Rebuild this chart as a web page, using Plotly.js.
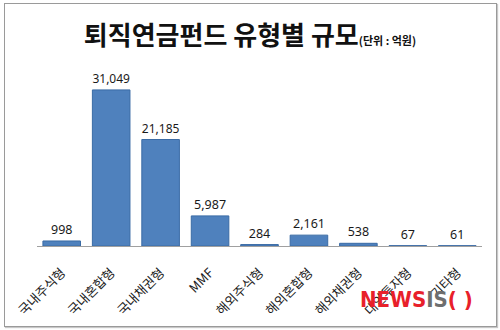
<!DOCTYPE html>
<html>
<head>
<meta charset="utf-8">
<script src="https://cdn.plot.ly/plotly-3.0.1.min.js"></script>
<style>
  html, body { margin: 0; padding: 0; background: #fff; }
  #wrap { position: relative; width: 500px; height: 330px; }
  #chart { width: 500px; height: 330px; }
  #frame { position: absolute; left: 4px; top: 3px; width: 491px; height: 322px;
           border: 1px solid #9a9a9a; box-shadow: 1px 1px 1px #c8c8c8; pointer-events: none; }
</style>
</head>
<body>
<div id="wrap">
  <div id="chart"></div>
  <div id="frame"></div>
</div>
<script>
const categories = ["국내주식형", "국내혼합형", "국내채권형", "MMF", "해외주식형", "해외혼합형", "해외채권형", "대안투자형", "기타형"];
const values = [998, 31049, 21185, 5987, 284, 2161, 538, 67, 61];
const valueLabels = ["998", "31,049", "21,185", "5,987", "284", "2,161", "538", "67", "61"];
const titleMain = "퇴직연금펀드 유형별 규모";
const titleUnit = "(단위 : 억원)";

const trace = {
  type: "bar",
  x: categories,
  y: values,
  text: valueLabels,
  textposition: "outside",
  cliponaxis: false,
  textfont: { size: 12.5, color: "#1a1a1a", family: "Noto Sans, Noto Sans CJK KR, sans-serif" },
  marker: { color: "#4F81BD", line: { color: "#3A6BA5", width: 1 } },
  hoverinfo: "none"
};

const layout = {
  width: 500, height: 330,
  margin: { l: 37, r: 18, t: 60, b: 84 },
  paper_bgcolor: "#fff", plot_bgcolor: "#fff",
  font: { family: "Noto Sans CJK KR, sans-serif", color: "#222" },
  bargap: 0.24,
  showlegend: false,
  title: {
    text: "<b>" + titleMain + "</b><b><span style='font-size:11px'>" + titleUnit + "</span></b>",
    font: { size: 26, color: "#111", family: "Noto Sans CJK KR, sans-serif" },
    x: 0.5, xanchor: "center",
    y: 1 - 36 / 330, yref: "container", yanchor: "middle"
  },
  xaxis: {
    type: "category",
    tickangle: -45,
    tickfont: { size: 13, color: "#1a1a1a" },
    ticklabelstandoff: 13,
    showline: true, linecolor: "#a0a0a0", linewidth: 1,
    ticks: "", showgrid: false, zeroline: false
  },
  yaxis: {
    range: [0, 37000],
    visible: false, showgrid: false, zeroline: false
  },
  annotations: [{
    xref: "paper", yref: "paper",
    x: 0.985, y: -0.29, xanchor: "right", yanchor: "middle",
    showarrow: false,
    text: "<b><span style='color:#e8202a'>NEWS</span><span style='color:#6e6e6e'>IS</span><span style='color:#e8202a'>( )</span></b>",
    font: { size: 22, family: "Liberation Sans Narrow, DejaVu Sans Condensed, sans-serif" }
  }]
};

Plotly.newPlot("chart", [trace], layout, { staticPlot: true, displayModeBar: false });
</script>
</body>
</html>
